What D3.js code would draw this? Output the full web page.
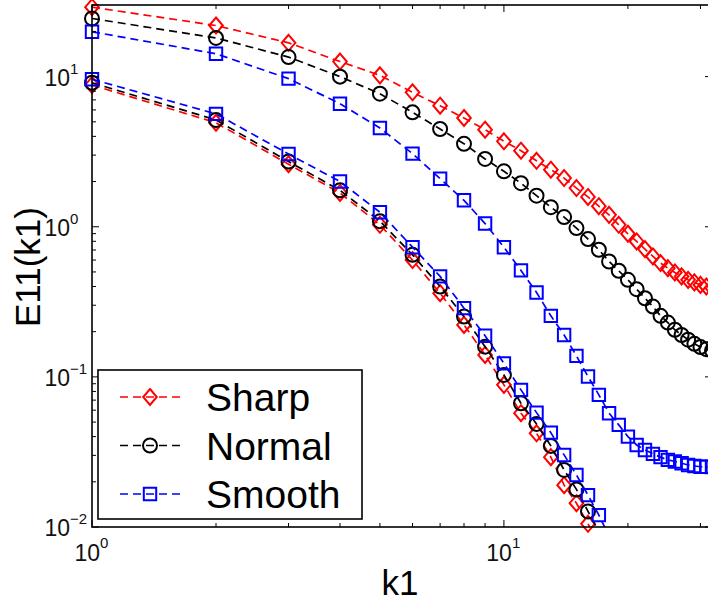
<!DOCTYPE html>
<html>
<head>
<meta charset="utf-8">
<script src="https://cdn.jsdelivr.net/npm/d3@7"></script>
<style>
  html, body { margin: 0; padding: 0; background: #fff; }
  svg { display: block; font-family: "Liberation Sans", Arial, Helvetica, sans-serif; }
</style>
</head>
<body>
<svg id="chart" width="708" height="604"></svg>
<script>
// Wavenumbers k1 for the two families of spectra
const kUpper = d3.range(1, 33);          // 1 .. 32
const kLower = d3.range(1, 19);          // 1 .. 18

// Upper family: E11(k1)
const sharpUpper = [29.0, 21.9, 16.8, 12.6, 10.2, 7.86, 6.4, 5.3, 4.43, 3.71,
  3.21, 2.75, 2.40, 2.11, 1.81, 1.58, 1.37, 1.20, 1.03, 0.898,
  0.798, 0.710, 0.634, 0.573, 0.530, 0.496, 0.467, 0.443, 0.426, 0.410,
  0.400, 0.393];
const normalUpper = [24.4, 18.1, 13.5, 10.0, 7.7, 5.78, 4.48, 3.57, 2.83, 2.34,
  1.95, 1.61, 1.35, 1.16, 0.98, 0.828, 0.703, 0.587, 0.509, 0.443,
  0.384, 0.334, 0.294, 0.255, 0.230, 0.206, 0.190, 0.177, 0.166, 0.158,
  0.153, 0.150];
const smoothUpper = [19.9, 14.2, 9.7, 6.6, 4.55, 3.07, 2.09, 1.50, 1.05, 0.731,
  0.512, 0.365, 0.255, 0.190, 0.138, 0.1005, 0.0759, 0.0573, 0.0479, 0.0400,
  0.0352, 0.0326, 0.0307, 0.0292, 0.0280, 0.0273, 0.0266, 0.0259, 0.0255, 0.0252,
  0.0252, 0.0251];

// Lower family: E11(k1)
const sharpLower = [8.8, 4.93, 2.61, 1.68, 1.03, 0.60, 0.361, 0.222, 0.140, 0.0885,
  0.0573, 0.0421, 0.0292, 0.0190, 0.0144, 0.0105, 0.0076];
const normalLower = [9.1, 5.15, 2.72, 1.75, 1.09, 0.65, 0.400, 0.252, 0.159, 0.103,
  0.0667, 0.0486, 0.0347, 0.0240, 0.0178, 0.0127, 0.0093];
const smoothLower = [9.6, 5.65, 3.05, 2.00, 1.25, 0.731, 0.467, 0.287, 0.188, 0.123,
  0.0819, 0.0578, 0.0425, 0.0302, 0.0222, 0.0163, 0.0120, 0.0087];

const xTickMajor = [1, 10];
const yTickMajor = [0.01, 0.1, 1, 10];
const yTickExp = ["−2", "−1", "0", "1"];
const xTickExp = ["0", "1"];
const legendNames = ["Sharp", "Normal", "Smooth"];

const colors = { Sharp: "#ff0000", Normal: "#000000", Smooth: "#0000ff" };
const markerOf = { Sharp: "diamond", Normal: "circle", Smooth: "square" };

const series = [
  { name: "Sharp", k: kUpper, v: sharpUpper },
  { name: "Normal", k: kUpper, v: normalUpper },
  { name: "Smooth", k: kUpper, v: smoothUpper },
  { name: "Sharp", k: kLower, v: sharpLower },
  { name: "Normal", k: kLower, v: normalLower },
  { name: "Smooth", k: kLower, v: smoothLower }
];

const plot = { left: 92, right: 712, top: 5, bottom: 527 };
const x = d3.scaleLog().domain([1, 32]).range([plot.left, plot.right]);
const y = d3.scaleLog().domain([0.01, 30]).range([plot.bottom, plot.top]);

const svg = d3.select("#chart");

svg.append("defs").append("clipPath").attr("id", "plotClip")
  .append("rect")
  .attr("x", plot.left).attr("y", plot.top)
  .attr("width", plot.right - plot.left).attr("height", plot.bottom - plot.top);

// Marker path generators
function markerPath(type, cx, cy) {
  if (type === "diamond") {
    const r = 8;
    return `M${cx},${cy - r}L${cx + r * 0.85},${cy}L${cx},${cy + r}L${cx - r * 0.85},${cy}Z`;
  }
  if (type === "square") {
    const h = 6.2;
    return `M${cx - h},${cy - h}H${cx + h}V${cy + h}H${cx - h}Z`;
  }
  const r = 7;
  return `M${cx - r},${cy}A${r},${r} 0 1,0 ${cx + r},${cy}A${r},${r} 0 1,0 ${cx - r},${cy}Z`;
}

const line = d3.line().x(d => x(d[0])).y(d => y(d[1]));

// Curves
const curves = svg.append("g");
series.forEach(s => {
  const pts = s.k.map((k, i) => [k, s.v[i]]).filter(d => d[1] !== undefined);
  curves.append("path")
    .attr("d", line(pts))
    .attr("clip-path", "url(#plotClip)")
    .attr("fill", "none")
    .attr("stroke", colors[s.name])
    .attr("stroke-width", 1.7)
    .attr("stroke-dasharray", "8,5");
  curves.append("g").selectAll("path")
    .data(pts.filter(d => d[1] >= 0.01 && d[0] <= 32))
    .join("path")
    .attr("d", d => markerPath(markerOf[s.name], x(d[0]), y(d[1])))
    .attr("fill", "none")
    .attr("stroke", colors[s.name])
    .attr("stroke-width", 2);
});

// Axes box
const axisG = svg.append("g").attr("stroke", "#000").attr("fill", "none");
axisG.append("rect")
  .attr("x", plot.left).attr("y", plot.top)
  .attr("width", plot.right - plot.left).attr("height", plot.bottom - plot.top)
  .attr("stroke-width", 1.6);

// Log ticks on all four sides (pointing inward)
function logTicks(scale) {
  const [a, b] = scale.domain();
  const out = [];
  for (let e = Math.floor(Math.log10(a)); e <= Math.ceil(Math.log10(b)); e++) {
    for (let m = 1; m <= 9; m++) {
      const v = m * Math.pow(10, e);
      if (v >= a * 0.999 && v <= b * 1.001) out.push({ v, major: m === 1 });
    }
  }
  return out;
}
logTicks(x).forEach(t => {
  const len = t.major ? 7 : 4;
  const px = x(t.v);
  axisG.append("line").attr("x1", px).attr("x2", px)
    .attr("y1", plot.bottom).attr("y2", plot.bottom - len).attr("stroke-width", 1);
  axisG.append("line").attr("x1", px).attr("x2", px)
    .attr("y1", plot.top).attr("y2", plot.top + len).attr("stroke-width", 1);
});
logTicks(y).forEach(t => {
  const len = t.major ? 7 : 4;
  const py = y(t.v);
  axisG.append("line").attr("y1", py).attr("y2", py)
    .attr("x1", plot.left).attr("x2", plot.left + len).attr("stroke-width", 1);
  axisG.append("line").attr("y1", py).attr("y2", py)
    .attr("x1", plot.right).attr("x2", plot.right - len).attr("stroke-width", 1);
});

// Tick labels: 10 with superscript exponent
const labels = svg.append("g").attr("fill", "#111");
yTickMajor.forEach((v, i) => {
  const py = y(v);
  labels.append("text").attr("x", 70).attr("y", py + 9)
    .attr("text-anchor", "end").attr("font-size", 23).text("10");
  labels.append("text").attr("x", 70).attr("y", py - 3)
    .attr("text-anchor", "start").attr("font-size", 15).text(yTickExp[i]);
});
xTickMajor.forEach((v, i) => {
  const px = x(v);
  labels.append("text").attr("x", px + 8).attr("y", 561)
    .attr("text-anchor", "end").attr("font-size", 23).text("10");
  labels.append("text").attr("x", px + 8).attr("y", 548)
    .attr("text-anchor", "start").attr("font-size", 15).text(xTickExp[i]);
});

// Axis titles
svg.append("text").attr("x", 400).attr("y", 595)
  .attr("text-anchor", "middle").attr("font-size", 35).attr("fill", "#000").text("k1");
svg.append("text")
  .attr("transform", "translate(40,267) rotate(-90)")
  .attr("text-anchor", "middle").attr("font-size", 35).attr("fill", "#000").text("E11(k1)");

// Legend
const leg = svg.append("g");
leg.append("rect").attr("x", 98).attr("y", 370).attr("width", 264).attr("height", 149)
  .attr("fill", "#fff").attr("stroke", "#000").attr("stroke-width", 1.6);
const legY = [397, 445.5, 494];
legendNames.forEach((name, i) => {
  const ly = legY[i];
  leg.append("line").attr("x1", 120).attr("x2", 180).attr("y1", ly).attr("y2", ly)
    .attr("stroke", colors[name]).attr("stroke-width", 1.7).attr("stroke-dasharray", "8,5");
  leg.append("path").attr("d", markerPath(markerOf[name], 150, ly))
    .attr("fill", "none").attr("stroke", colors[name]).attr("stroke-width", 2);
  leg.append("text").attr("x", 206).attr("y", ly + 14)
    .attr("font-size", 39).attr("fill", "#000").text(name);
});
</script>
</body>
</html>
